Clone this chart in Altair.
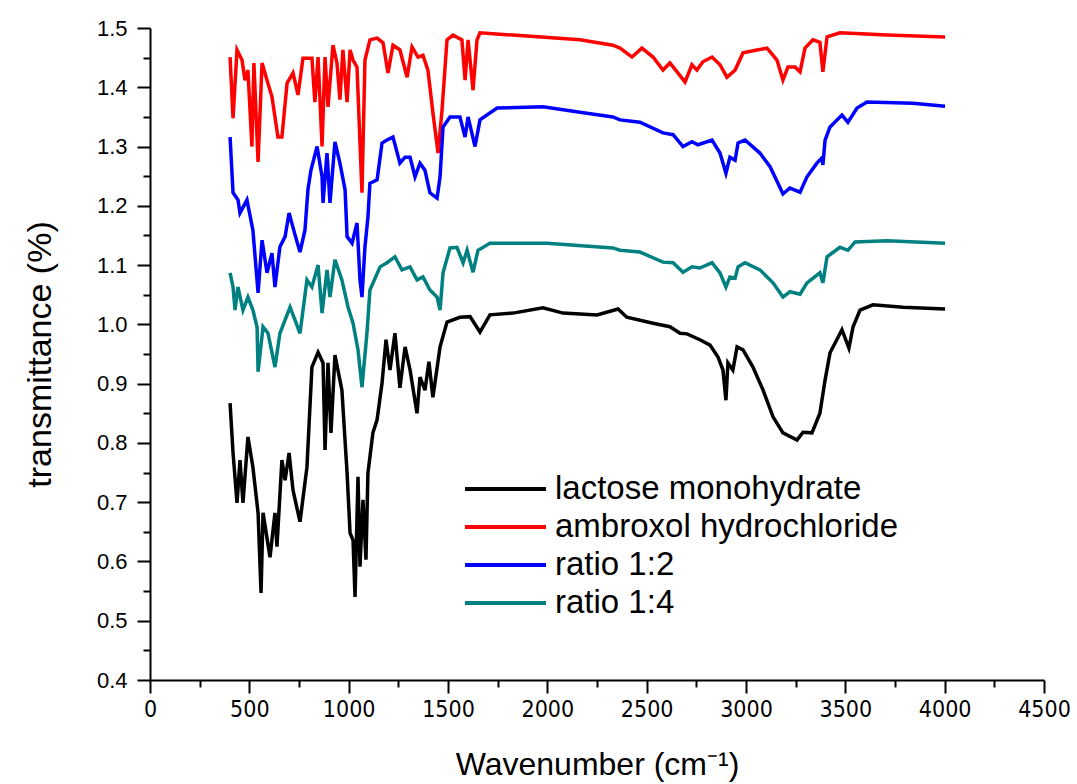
import altair as alt
import pandas as pd

# ---- data ----
series_names = ["lactose monohydrate", "ambroxol hydrochloride", "ratio 1:2", "ratio 1:4"]
series_colors = ["#000000", "#ff0000", "#0000ff", "#008080"]

lactose_wn = [403, 418, 438, 453, 468, 493, 518, 544, 559, 569, 604, 629, 639, 664, 680, 700, 720, 755,
              790, 815, 846, 871, 881, 896, 911, 931, 966, 992, 1007, 1022, 1032, 1047, 1057, 1072, 1087,
              1097, 1122, 1143, 1168, 1188, 1208, 1233, 1258, 1284, 1309, 1344, 1359, 1384, 1404, 1424,
              1460, 1495, 1560, 1611, 1661, 1711, 1827, 1978, 2079, 2250, 2356, 2400, 2532, 2617, 2668,
              2703, 2768, 2819, 2859, 2884, 2899, 2909, 2934, 2955, 2985, 3035, 3086, 3136, 3186, 3257,
              3287, 3332, 3372, 3398, 3423, 3483, 3518, 3539, 3574, 3639, 3790, 4002]
lactose_val = [0.867, 0.783, 0.699, 0.771, 0.699, 0.81, 0.759, 0.682, 0.547, 0.682, 0.607, 0.682, 0.625,
               0.771, 0.737, 0.783, 0.72, 0.667, 0.759, 0.928, 0.953, 0.935, 0.788, 0.935, 0.817, 0.948,
               0.889, 0.749, 0.648, 0.636, 0.54, 0.743, 0.591, 0.704, 0.603, 0.749, 0.817, 0.839, 0.901,
               0.974, 0.923, 0.985, 0.893, 0.962, 0.923, 0.85, 0.911, 0.889, 0.937, 0.877, 0.962, 1.004,
               1.012, 1.013, 0.987, 1.016, 1.019, 1.028, 1.019, 1.016, 1.026, 1.012, 1.002, 0.996, 0.985,
               0.984, 0.974, 0.965, 0.945, 0.923, 0.872, 0.935, 0.923, 0.962, 0.957, 0.928, 0.889, 0.844,
               0.817, 0.805, 0.818, 0.817, 0.85, 0.906, 0.952, 0.991, 0.96, 0.996, 1.024, 1.033, 1.029, 1.026]

ambroxol_wn = [403, 418, 438, 463, 478, 493, 513, 523, 544, 564, 589, 614, 644, 664, 690, 720, 745, 770,
               815, 830, 846, 866, 881, 896, 921, 941, 956, 971, 992, 1007, 1022, 1042, 1067, 1082, 1107,
               1143, 1173, 1198, 1223, 1258, 1294, 1319, 1349, 1374, 1399, 1424, 1450, 1470, 1495, 1525,
               1570, 1586, 1601, 1626, 1646, 1661, 1827, 2164, 2330, 2366, 2426, 2476, 2532, 2582, 2617,
               2658, 2693, 2728, 2753, 2783, 2829, 2869, 2904, 2945, 2985, 3055, 3106, 3156, 3186, 3211,
               3247, 3272, 3297, 3337, 3372, 3387, 3408, 3473, 3710, 4002]
ambroxol_val = [1.451, 1.348, 1.463, 1.446, 1.412, 1.429, 1.3, 1.441, 1.274, 1.441, 1.412, 1.384, 1.316,
                1.316, 1.407, 1.424, 1.387, 1.449, 1.449, 1.375, 1.451, 1.3, 1.451, 1.367, 1.471, 1.441,
                1.379, 1.463, 1.375, 1.463, 1.446, 1.434, 1.222, 1.446, 1.48, 1.483, 1.475, 1.424, 1.471,
                1.463, 1.417, 1.468, 1.451, 1.454, 1.429, 1.357, 1.289, 1.362, 1.48, 1.488, 1.48, 1.412,
                1.48, 1.395, 1.48, 1.492, 1.488, 1.48, 1.471, 1.466, 1.451, 1.466, 1.451, 1.429, 1.441,
                1.424, 1.409, 1.438, 1.429, 1.443, 1.451, 1.438, 1.417, 1.429, 1.458, 1.463, 1.466, 1.446,
                1.412, 1.434, 1.434, 1.426, 1.466, 1.48, 1.476, 1.426, 1.485, 1.492, 1.488, 1.485]

ratio12_wn = [403, 418, 443, 453, 488, 518, 544, 564, 589, 614, 629, 654, 680, 700, 730, 755, 780, 795, 810,
              841, 866, 871, 891, 906, 931, 956, 982, 992, 1017, 1042, 1057, 1067, 1082, 1097, 1107, 1143,
              1168, 1193, 1223, 1258, 1284, 1309, 1334, 1359, 1384, 1409, 1445, 1460, 1475, 1510, 1560,
              1586, 1601, 1636, 1661, 1747, 1978, 2164, 2330, 2366, 2466, 2582, 2633, 2683, 2728, 2758,
              2829, 2869, 2899, 2919, 2945, 2960, 2995, 3070, 3121, 3161, 3186, 3221, 3272, 3307, 3357,
              3382, 3387, 3398, 3423, 3483, 3513, 3559, 3609, 3840, 4002]
ratio12_val = [1.316, 1.222, 1.21, 1.188, 1.21, 1.159, 1.053, 1.142, 1.087, 1.12, 1.063, 1.131, 1.148,
               1.188, 1.151, 1.122, 1.159, 1.227, 1.26, 1.3, 1.249, 1.205, 1.289, 1.205, 1.308, 1.272,
               1.227, 1.148, 1.137, 1.171, 1.075, 1.046, 1.131, 1.181, 1.238, 1.244, 1.306, 1.311, 1.316,
               1.272, 1.282, 1.282, 1.249, 1.272, 1.26, 1.222, 1.213, 1.249, 1.333, 1.35, 1.35, 1.316,
               1.35, 1.3, 1.345, 1.365, 1.367, 1.358, 1.35, 1.345, 1.341, 1.323, 1.32, 1.3, 1.308, 1.303,
               1.311, 1.289, 1.255, 1.282, 1.277, 1.306, 1.311, 1.289, 1.266, 1.238, 1.22, 1.23, 1.223,
               1.249, 1.272, 1.281, 1.269, 1.311, 1.333, 1.353, 1.341, 1.365, 1.375, 1.373, 1.368]

ratio14_wn = [403, 418, 428, 443, 468, 493, 518, 539, 544, 569, 594, 629, 654, 705, 730, 755, 790, 815, 846,
              866, 891, 906, 931, 966, 997, 1022, 1047, 1067, 1092, 1107, 1158, 1193, 1233, 1268, 1309,
              1344, 1374, 1409, 1445, 1460, 1475, 1510, 1545, 1576, 1596, 1626, 1651, 1711, 1998, 2330,
              2366, 2466, 2582, 2633, 2683, 2728, 2768, 2829, 2869, 2899, 2919, 2945, 2960, 2995, 3070,
              3136, 3186, 3221, 3272, 3307, 3372, 3387, 3408, 3473, 3513, 3549, 3710, 4002]
ratio14_val = [1.087, 1.063, 1.024, 1.063, 1.024, 1.046, 1.024, 0.995, 0.92, 0.996, 0.985, 0.928, 0.985,
               1.029, 1.007, 0.985, 1.075, 1.063, 1.1, 1.019, 1.092, 1.046, 1.109, 1.075, 1.029, 1.002,
               0.957, 0.894, 0.985, 1.058, 1.097, 1.104, 1.114, 1.092, 1.097, 1.075, 1.08, 1.058, 1.046,
               1.024, 1.087, 1.129, 1.13, 1.104, 1.125, 1.088, 1.125, 1.137, 1.137, 1.129, 1.125, 1.122,
               1.105, 1.104, 1.088, 1.097, 1.095, 1.104, 1.087, 1.063, 1.08, 1.078, 1.097, 1.104, 1.092,
               1.07, 1.046, 1.055, 1.051, 1.07, 1.087, 1.07, 1.114, 1.13, 1.125, 1.139, 1.141, 1.137]

x_major = [0, 500, 1000, 1500, 2000, 2500, 3000, 3500, 4000, 4500]
x_minor = [250, 750, 1250, 1750, 2250, 2750, 3250, 3750, 4250]
y_major = [0.4, 0.5, 0.6, 0.7, 0.8, 0.9, 1.0, 1.1, 1.2, 1.3, 1.4, 1.5]
y_minor = [0.45, 0.55, 0.65, 0.75, 0.85, 0.95, 1.05, 1.15, 1.25, 1.35, 1.45]

# ---- build table ----
rows = []
for name, wns, vals in zip(series_names,
                           [lactose_wn, ambroxol_wn, ratio12_wn, ratio14_wn],
                           [lactose_val, ambroxol_val, ratio12_val, ratio14_val]):
    for w, v in zip(wns, vals):
        rows.append({"series": name, "wn": w, "val": v})
df = pd.DataFrame(rows)
legend_df = pd.DataFrame({"series": series_names, "row": list(range(len(series_names)))})

FONT = "Liberation Sans"
NARROW = "Liberation Sans Narrow, DejaVu Sans Condensed, Liberation Sans"

xscale = alt.Scale(domain=[0, 4500], nice=False, zero=False)
yscale = alt.Scale(domain=[0.4, 1.5], nice=False, zero=False)
cscale = alt.Scale(domain=series_names, range=series_colors)

x_axis = alt.Axis(values=x_major, orient="bottom", grid=False, tickSize=13, tickWidth=2, format="d",
                  tickColor="black", domainColor="black", domainWidth=2,
                  labelFont=NARROW, labelFontSize=23, labelColor="black", labelPadding=5,
                  title="Wavenumber (cm\u207b\u00b9)", titleFont=FONT, titleFontSize=32,
                  titleFontWeight="normal", titleColor="black",
                  titleX=447, titleY=94, titleBaseline="alphabetic", titleAlign="center",
                  labelFlush=False, labelOverlap=False)
y_axis = alt.Axis(values=y_major, orient="left", grid=False, tickSize=13, tickWidth=2,
                  tickColor="black", domainColor="black", domainWidth=2, format=".1f",
                  labelFont=FONT, labelFontSize=22, labelColor="black", labelPadding=10,
                  title="transmittance (%)", titleFont=FONT, titleFontSize=34,
                  titleFontWeight="normal", titleColor="black",
                  titleX=-100, titleY=326, titleBaseline="alphabetic", titleAlign="center",
                  titleAngle=270, labelFlush=False, labelOverlap=False)
x_minor_axis = alt.Axis(values=x_minor, orient="bottom", grid=False, tickSize=7, tickWidth=2,
                        tickColor="black", domain=False, labels=False, title="")
y_minor_axis = alt.Axis(values=y_minor, orient="left", grid=False, tickSize=7, tickWidth=2,
                        tickColor="black", domain=False, labels=False, title="")

lines = alt.Chart(df).mark_line(strokeWidth=3.5).encode(
    x=alt.X("wn:Q", scale=xscale, axis=x_axis),
    y=alt.Y("val:Q", scale=yscale, axis=y_axis),
    color=alt.Color("series:N", scale=cscale, legend=None),
    detail="series:N",
)

minor = alt.Chart(df).mark_point(opacity=0).encode(
    x=alt.X("wn:Q", scale=xscale, axis=x_minor_axis),
    y=alt.Y("val:Q", scale=yscale, axis=y_minor_axis),
)

legend_y = alt.Y("row:O", scale=alt.Scale(type="point", range=[461, 575], padding=0), axis=None)
leg_lines = alt.Chart(legend_df).mark_rule(strokeWidth=4).encode(
    x=alt.value(315), x2=alt.value(396), y=legend_y,
    color=alt.Color("series:N", scale=cscale, legend=None),
)
leg_text = alt.Chart(legend_df).mark_text(align="left", baseline="middle", font=FONT,
                                          fontSize=33, color="black").encode(
    x=alt.value(405), y=legend_y, text="series:N",
)

chart = alt.layer(minor, lines, leg_lines, leg_text).resolve_scale(
    y="independent"
).resolve_axis(x="independent", y="independent").properties(
    width=894, height=652,
    autosize=alt.AutoSizeParams(type="none"),
    padding={"left": 150, "top": 28, "right": 33, "bottom": 104},
    background="white",
).configure_view(strokeWidth=0)

chart.save("out.html", embed_options={"renderer": "svg", "actions": False})
